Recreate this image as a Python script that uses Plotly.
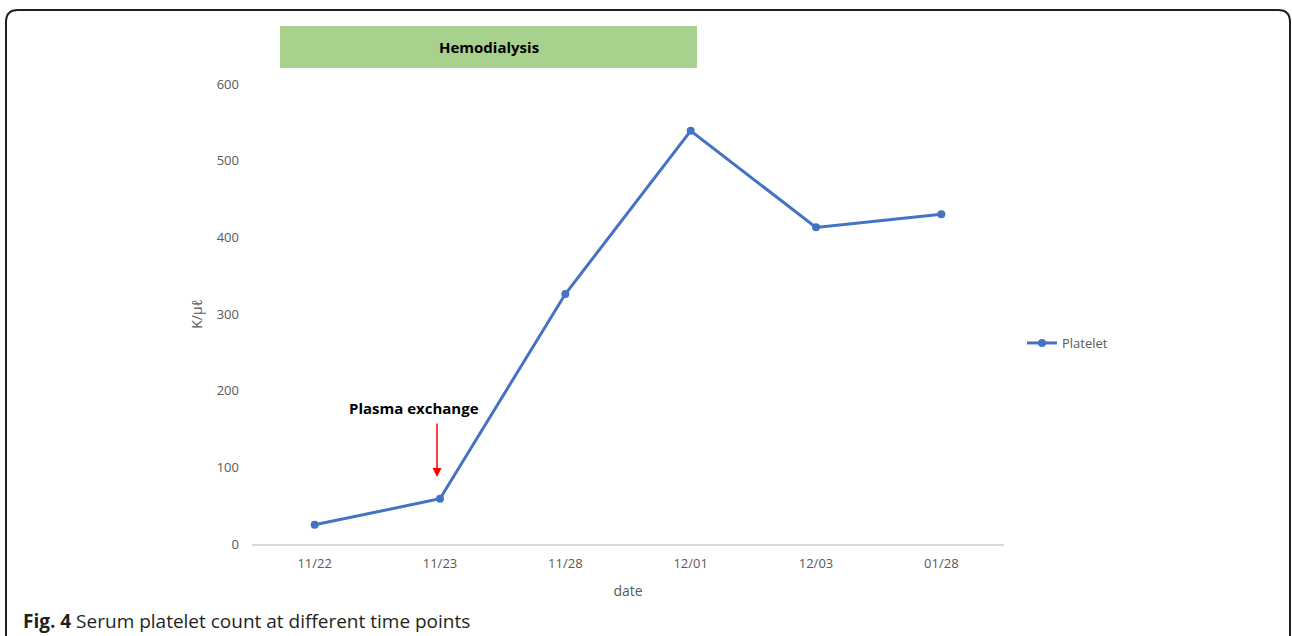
import plotly.graph_objects as go

dates = ["11/22", "11/23", "11/28", "12/01", "12/03", "01/28"]
platelet = [25, 59, 326, 539, 413, 430]
y_ticks = [0, 100, 200, 300, 400, 500, 600]

W, H = 1292, 636
def px(x): return x / W
def py(y): return 1 - y / H

fig = go.Figure()
fig.add_trace(go.Scatter(
    x=dates, y=platelet, mode="lines+markers", name="Platelet",
    line=dict(color="#4472C4", width=3),
    marker=dict(color="#4472C4", size=8),
))

grey = "#595959"
fig.update_layout(
    width=W, height=H,
    margin=dict(l=0, r=0, t=0, b=0, autoexpand=False),
    paper_bgcolor="white", plot_bgcolor="white",
    font=dict(family="Open Sans", color=grey, size=12),
    showlegend=True,
    legend=dict(x=px(1022), y=py(343), xanchor="left", yanchor="middle",
                font=dict(size=13, color=grey), bgcolor="rgba(0,0,0,0)",
                itemwidth=30),
    xaxis=dict(domain=[px(252), px(1004)], type="category", automargin=False,
               range=[-0.5, 5.5], showgrid=False, zeroline=False,
               showline=True, linecolor="#D9D9D9", linewidth=1.5,
               ticks="", tickfont=dict(size=13, color=grey), ticklabelstandoff=7,
               title=dict(text="date", font=dict(size=14, color=grey), standoff=15)),
    yaxis=dict(domain=[py(544), py(84)], range=[0, 600], tickvals=y_ticks,
               automargin=False,
               showgrid=False, zeroline=False, showline=False, ticks="",
               tickfont=dict(size=13, color=grey), ticklabelstandoff=12,
               title=dict(text="K/μℓ", font=dict(size=14, color=grey), standoff=10)),
)

# rounded frame
x0, x1, yt, yb, r = px(6), px(1290), py(10), py(640), 12
path = (f"M {x0} {yb} L {x0} {py(10 + r)} Q {x0} {yt} {px(6 + r)} {yt} "
        f"L {px(1290 - r)} {yt} Q {x1} {yt} {x1} {py(10 + r)} L {x1} {yb}")
fig.add_shape(type="path", xref="paper", yref="paper", path=path,
              line=dict(color="#231F20", width=2))

# Hemodialysis bar
fig.add_shape(type="rect", xref="paper", yref="paper",
              x0=px(280), x1=px(697), y0=py(68), y1=py(26),
              fillcolor="#A9D18E", line=dict(width=0), layer="below")
fig.add_annotation(xref="paper", yref="paper", x=px(489), y=py(47),
                   xanchor="center", yanchor="middle",
                   text="<b>Hemodialysis</b>", showarrow=False,
                   font=dict(size=15, color="black", family="Open Sans"))

# Plasma exchange
fig.add_annotation(xref="paper", yref="paper", x=px(414), y=py(408),
                   xanchor="center", yanchor="middle",
                   text="<b>Plasma exchange</b>", showarrow=False,
                   font=dict(size=15, color="black", family="Open Sans"))
fig.add_annotation(xref="paper", yref="paper", x=px(437), y=py(477),
                   ax=0, ay=-55, text="", showarrow=True,
                   arrowhead=2, arrowsize=1.2, arrowwidth=1.5, arrowcolor="red")

# caption
fig.add_annotation(xref="paper", yref="paper", x=px(21), y=py(621),
                   xanchor="left", yanchor="middle",
                   text="<b>Fig. 4</b> Serum platelet count at different time points",
                   showarrow=False,
                   font=dict(size=19, color="#231F20", family="Open Sans"))

fig.write_html("out.html", config={"displayModeBar": False},
               post_script="document.body.style.margin='0';document.body.style.overflow='hidden';")
